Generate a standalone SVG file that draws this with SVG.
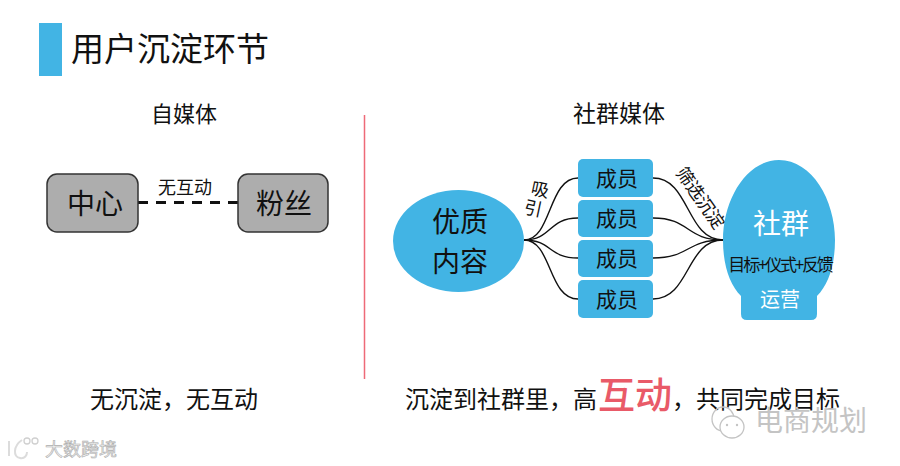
<svg xmlns="http://www.w3.org/2000/svg" width="900" height="466" viewBox="0 0 900 466">
<style>
text{font-family:"Noto Sans CJK SC","Liberation Sans",sans-serif;text-anchor:middle;fill:#111}
.blue{fill:#42b4e4}
.gray{fill:#adadad;stroke:#333;stroke-width:1.5}
.conn{fill:none;stroke:#111;stroke-width:1.4}
.wl{fill:none;stroke:#c4c4c4;stroke-width:1.3}
.mem{font-size:21px}
.big{font-size:28px}
.body{font-size:24px}
</style>
<rect width="900" height="466" fill="#fff"/>
<rect id="title-bar" x="39" y="23" width="23" height="53" class="blue"/>
<text x="170" y="61" font-size="33">用户沉淀环节</text>
<text x="184" y="122" font-size="22">自媒体</text>
<text x="619" y="122" font-size="23">社群媒体</text>
<line id="divider" x1="364.500" y1="115" x2="364.500" y2="379" stroke="#ee6a78" stroke-width="1.500"/>
<g id="connectors">
<line x1="138" y1="202.500" x2="238" y2="202.500" stroke="#111" stroke-width="3" stroke-dasharray="10 8"/>
<path class="conn" d="M524 240C552 240 548 178 578 178"/>
<path class="conn" d="M524 240C552 240 548 218 578 218"/>
<path class="conn" d="M524 240C552 240 548 258 578 258"/>
<path class="conn" d="M524 240C552 240 548 299 578 299"/>
<path class="conn" d="M653 178C690 178 686 240 723 240"/>
<path class="conn" d="M653 218C690 218 686 240 723 240"/>
<path class="conn" d="M653 258C690 258 686 240 723 240"/>
<path class="conn" d="M653 299C690 299 686 240 723 240"/>
</g>
<text x="185" y="194" font-size="18">无互动</text>
<text transform="translate(540,190) rotate(12)" y="6" font-size="18">吸</text>
<text transform="translate(533,209) rotate(12)" y="6" font-size="18">引</text>
<text transform="translate(700,198) rotate(55)" y="6" font-size="18" style="letter-spacing:-.5px">筛选沉淀</text>
<g id="node-zhongxin"><rect x="47" y="174" width="91" height="58" rx="10" class="gray"/><text x="95" y="214" class="big">中心</text></g>
<g id="node-fensi"><rect x="238" y="174" width="90" height="58" rx="10" class="gray"/><text x="284" y="214" class="big">粉丝</text></g>
<g id="node-content"><ellipse cx="458.500" cy="241" rx="65.500" ry="51" class="blue"/><text x="460" y="232" class="big">优质</text><text x="460" y="272" class="big">内容</text></g>
<g id="member-1"><rect x="578" y="159" width="75" height="38" rx="5" class="blue"/><text x="617" y="186" class="mem">成员</text></g>
<g id="member-2"><rect x="578" y="200" width="75" height="37" rx="5" class="blue"/><text x="617" y="226" class="mem">成员</text></g>
<g id="member-3"><rect x="578" y="240" width="75" height="37" rx="5" class="blue"/><text x="617" y="266" class="mem">成员</text></g>
<g id="member-4"><rect x="578" y="280" width="75" height="38" rx="5" class="blue"/><text x="617" y="307" class="mem">成员</text></g>
<g id="node-community">
<path class="blue" d="M779 160C812 160 835 200 835 240C835 266 828 285 817 296V314Q817 320 811 320H747Q741 320 741 314V296C730 285 723 266 723 240C723 200 746 160 779 160Z"/>
<text x="781" y="234" class="big" style="fill:#fff">社群</text>
<text x="780" y="271" font-size="17" style="letter-spacing:-2.200px">目标+仪式+反馈</text>
<text x="780" y="307" font-size="20" style="fill:#fff">运营</text>
</g>
<text x="174" y="408" class="body">无沉淀，无互动</text>
<text x="501" y="408" class="body">沉淀到社群里，高</text>
<text x="635" y="409" font-size="37" font-weight="500" style="fill:#e95a68">互动</text>
<text x="756" y="408" class="body">，共同完成目标</text>
<g id="watermark-wechat">
<ellipse cx="723" cy="419" rx="11" ry="12" class="wl"/>
<ellipse cx="732" cy="427" rx="12" ry="11" fill="#fff" stroke="#c4c4c4" stroke-width="1.300"/>
<circle cx="727" cy="425" r="1.200" fill="#c4c4c4"/><circle cx="737" cy="425" r="1.200" fill="#c4c4c4"/>
<text x="811" y="431" font-size="28" style="fill:#c4c4c4">电商规划</text>
</g>
<g id="watermark-brand">
<path fill="none" stroke="#dcdcdc" stroke-width="2" d="M9 441V456M22 440C13 446 13 457 20 458C25 459 27 455 27 452"/>
<circle cx="27" cy="441" r="3" fill="none" stroke="#d0d0d0" stroke-width="1.300"/><circle cx="35" cy="441" r="3" fill="none" stroke="#d0d0d0" stroke-width="1.300"/>
<text x="81" y="456" font-size="18" style="fill:#efefef;stroke:#adadad;stroke-width:.6px">大数跨境</text>
</g>
</svg>
